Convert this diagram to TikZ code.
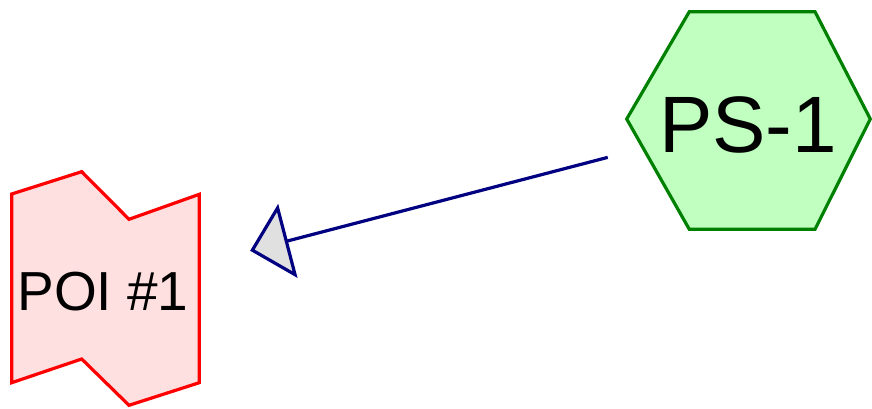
\documentclass[tikz,border=0pt]{standalone}
\usepackage{fontspec}
\setmainfont{Liberation Sans}
\usetikzlibrary{arrows.meta}
\definecolor{hexfill}{HTML}{C0FFC0}
\definecolor{hexline}{HTML}{008000}
\definecolor{poifill}{HTML}{FFE0E0}
\definecolor{poiline}{HTML}{FF0000}
\definecolor{arrline}{HTML}{000080}
\definecolor{tipfill}{HTML}{E0E0E0}
\begin{document}
\begin{tikzpicture}[x=1pt,y=-1pt,
  shapeline/.style={line width=3.2pt,line join=miter},
  hexstyle/.style={shapeline,draw=hexline,fill=hexfill},
  poistyle/.style={shapeline,draw=poiline,fill=poifill},
  label/.style={inner sep=0pt,text=black},
  connector/.style={line width=3.2pt,draw=arrline,
    -{Triangle[length=39pt,width=76pt,fill=tipfill,line join=miter]}}]
\useasboundingbox (0,0) rectangle (872,409);
% hexagon PS-1
\draw[hexstyle] (626.7,119) -- (689.3,11.7) -- (815,11.7) -- (870.3,119)
  -- (815,229.3) -- (689.3,229.3) -- cycle;
\coordinate (pscenter) at (749,120.5);
\node[label,font=\fontsize{80}{80}\selectfont] (pstext) at (748,124.5) {PS-1};
% POI shape
\draw[poistyle] (11.7,194) -- (81.7,171.7) -- (129,219.3) -- (199.3,194.3)
  -- (199.3,382.7) -- (129,405.3) -- (81.7,359) -- (11.7,382.7) -- cycle;
\coordinate (poicenter) at (105.5,288.5);
\node[label,font=\fontsize{55}{55}\selectfont] (poitext) at (103,291.7) {POI \#1};
% connector
\draw[connector,shorten <=146pt,shorten >=149.5pt] (pscenter) -- (poicenter);
\end{tikzpicture}
\end{document}
